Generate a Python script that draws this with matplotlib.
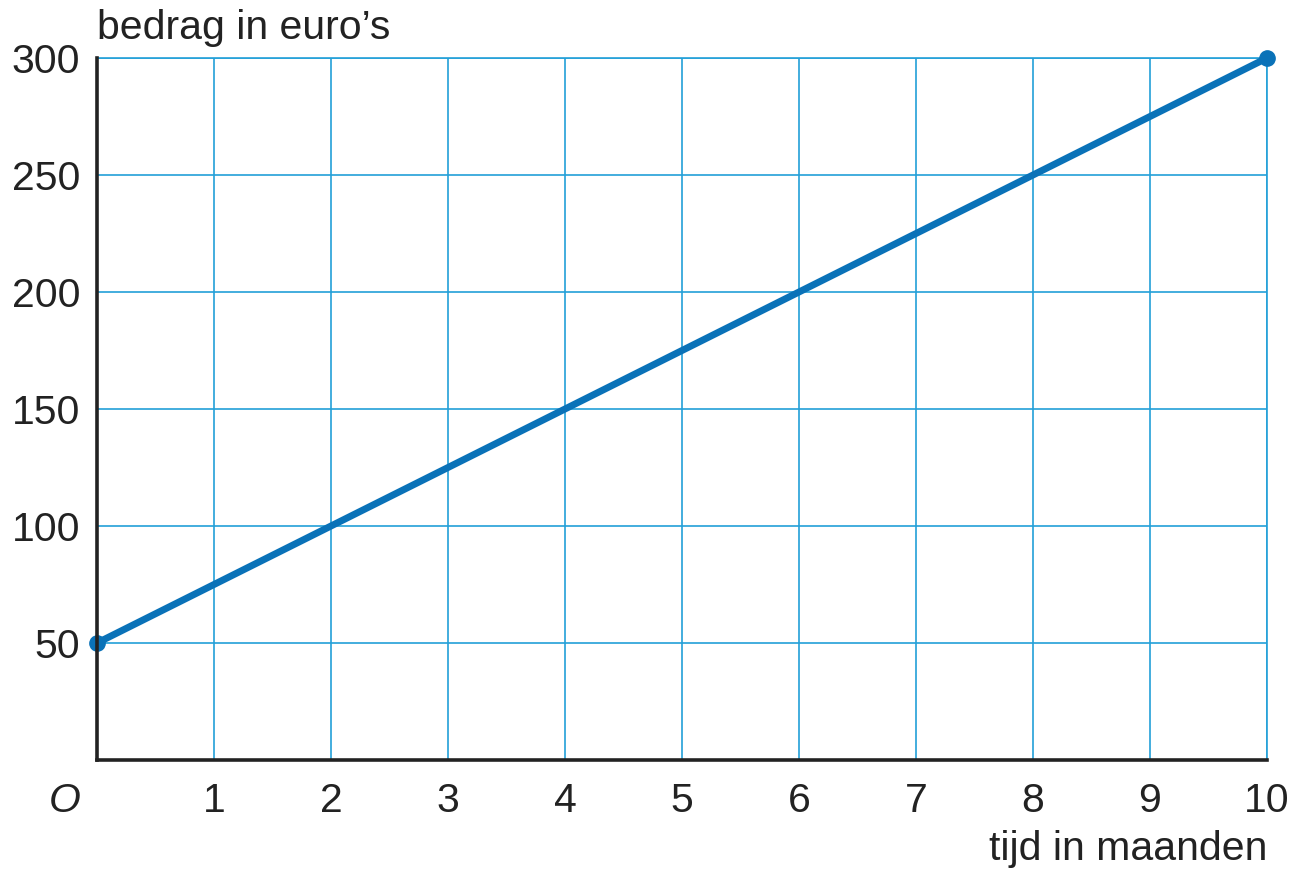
import matplotlib
matplotlib.use('Agg')
import matplotlib.pyplot as plt

# gegevens
maanden = [0, 10]
bedrag = [50, 300]
x_ticks = [1, 2, 3, 4, 5, 6, 7, 8, 9, 10]
y_ticks = [50, 100, 150, 200, 250, 300]

blauw_grid = '#22a0d8'
blauw_lijn = '#0a72b8'
tekst = '#222222'
fs = 29.5

plt.rcParams['font.family'] = ['Liberation Sans', 'DejaVu Sans']

fig = plt.figure(figsize=(12.94, 8.72), dpi=100)
ax = fig.add_axes([97/1294, 1 - 760/872, (1267-97)/1294, (760-58)/872])

ax.set_xlim(0, 10)
ax.set_ylim(0, 300)
ax.set_xticks(x_ticks)
ax.set_yticks(y_ticks)
ax.grid(True, color=blauw_grid, linewidth=1.2)
ax.set_axisbelow(True)

for s in ['top', 'right']:
    ax.spines[s].set_color(blauw_grid)
    ax.spines[s].set_linewidth(1.2)
for s in ['left', 'bottom']:
    ax.spines[s].set_color('#222222')
    ax.spines[s].set_linewidth(2.6)
    ax.spines[s].set_zorder(5)

ax.tick_params(length=0, labelsize=fs, labelcolor=tekst)
ax.tick_params(axis='x', pad=16)
ax.tick_params(axis='y', pad=12)

ax.plot(maanden, bedrag, color=blauw_lijn, linewidth=5, solid_capstyle='round',
        marker='o', markersize=11, zorder=4, clip_on=False)

ax.annotate('O', xy=(0, 0), xytext=(-32, -22), textcoords='offset pixels',
            ha='center', va='top', fontsize=fs, style='italic', color=tekst,
            annotation_clip=False)
ax.text(0, 1.015, "bedrag in euro\u2019s", transform=ax.transAxes, ha='left', va='bottom',
        fontsize=fs, color=tekst)
ax.text(1.0, -0.1, 'tijd in maanden', transform=ax.transAxes, ha='right', va='top',
        fontsize=fs, color=tekst)

fig.savefig('out.png', dpi=100, facecolor='white')
